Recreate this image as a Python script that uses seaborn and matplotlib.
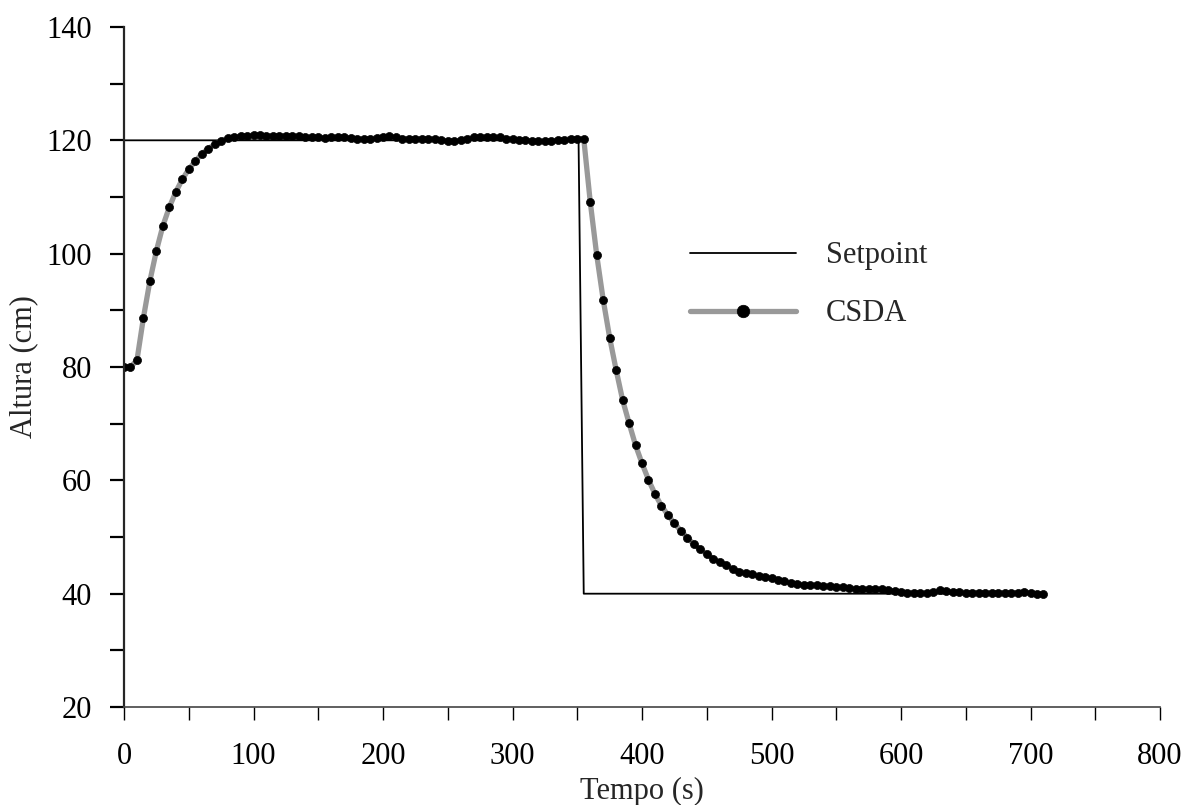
import seaborn as sns
import matplotlib.pyplot as plt
from matplotlib.ticker import MultipleLocator
import numpy as np

# tempo de amostragem (s) e altura medida (cm)
tempo = np.arange(0, 715, 5)
csda = [80.0, 80.0, 81.2, 88.7, 95.2, 100.5, 104.9, 108.2, 110.9, 113.1,
        114.9, 116.3, 117.6, 118.5, 119.3, 119.9, 120.4, 120.6, 120.7, 120.8,
        120.9, 120.9, 120.8, 120.8, 120.8, 120.8, 120.8, 120.7, 120.6, 120.5,
        120.5, 120.4, 120.5, 120.6, 120.5, 120.4, 120.3, 120.2, 120.3, 120.4,
        120.6, 120.7, 120.5, 120.3, 120.3, 120.3, 120.3, 120.3, 120.2, 120.0,
        119.9, 119.8, 120.0, 120.3, 120.5, 120.6, 120.6, 120.5, 120.5, 120.3,
        120.2, 120.0, 120.0, 119.9, 119.8, 119.8, 119.9, 120.0, 120.1, 120.3,
        120.3, 120.3,
        109.2, 99.8, 91.9, 85.2, 79.5, 74.2, 70.1, 66.2, 63.0, 60.1,
        57.6, 55.5, 53.9, 52.4, 51.1, 49.9, 48.7, 47.8, 47.0, 46.2,
        45.6, 45.0, 44.4, 43.9, 43.7, 43.5, 43.2, 43.0, 42.8, 42.5,
        42.2, 41.9, 41.7, 41.6, 41.5, 41.5, 41.4, 41.3, 41.2, 41.1,
        41.0, 40.9, 40.8, 40.8, 40.8, 40.8, 40.6, 40.5, 40.3, 40.2,
        40.2, 40.1, 40.1, 40.3, 40.6, 40.5, 40.3, 40.3, 40.2, 40.2,
        40.2, 40.1, 40.1, 40.2, 40.1, 40.1, 40.2, 40.3, 40.1, 40.0,
        39.9]

setpoint_t = [0, 351, 355, 710]
setpoint_v = [120, 120, 40, 40]

sns.set_style('ticks')
plt.rcParams['font.family'] = ['Liberation Serif', 'DejaVu Serif']
plt.rcParams['font.size'] = 22

fig = plt.figure(figsize=(11.97, 8.05), dpi=100)
ax = fig.add_axes([0.1036, 0.1217, 0.8655, 0.8448])

sns.lineplot(x=setpoint_t, y=setpoint_v, ax=ax, color='black', linewidth=1.3,
             label='Setpoint', sort=False)
sns.lineplot(x=tempo, y=csda, ax=ax, color='#999999', linewidth=3.8,
             marker='o', markersize=5.8, markerfacecolor='black',
             markeredgecolor='black', markeredgewidth=0.5, label='CSDA',
             sort=False)

ax.set_xlim(0, 800)
ax.set_ylim(20, 140)
ax.xaxis.set_major_locator(MultipleLocator(100))
ax.xaxis.set_minor_locator(MultipleLocator(50))
ax.yaxis.set_major_locator(MultipleLocator(20))
ax.yaxis.set_minor_locator(MultipleLocator(10))
ax.tick_params(axis='y', which='both', length=10, width=1.6, pad=13,
               labelsize=22, colors='black')
ax.tick_params(axis='x', which='both', length=9.5, width=1.0, pad=16,
               labelsize=22, colors='black')
sns.despine(ax=ax)
ax.spines['left'].set_linewidth(1.6)
ax.spines['bottom'].set_linewidth(1.2)
ax.spines['bottom'].set_color('#444444')

ax.set_xlabel('Tempo (s)', fontsize=22, labelpad=4)
ax.set_ylabel('Altura (cm)', fontsize=22, labelpad=6)

leg = ax.legend(loc='center left', bbox_to_anchor=(0.52, 0.621), frameon=False,
                fontsize=22, handlelength=3.45, handletextpad=1.0,
                labelspacing=0.95)
# ponto maior na legenda, como no original
leg.legend_handles[1].set_markersize(9)

plt.savefig('out.png', dpi=100)
